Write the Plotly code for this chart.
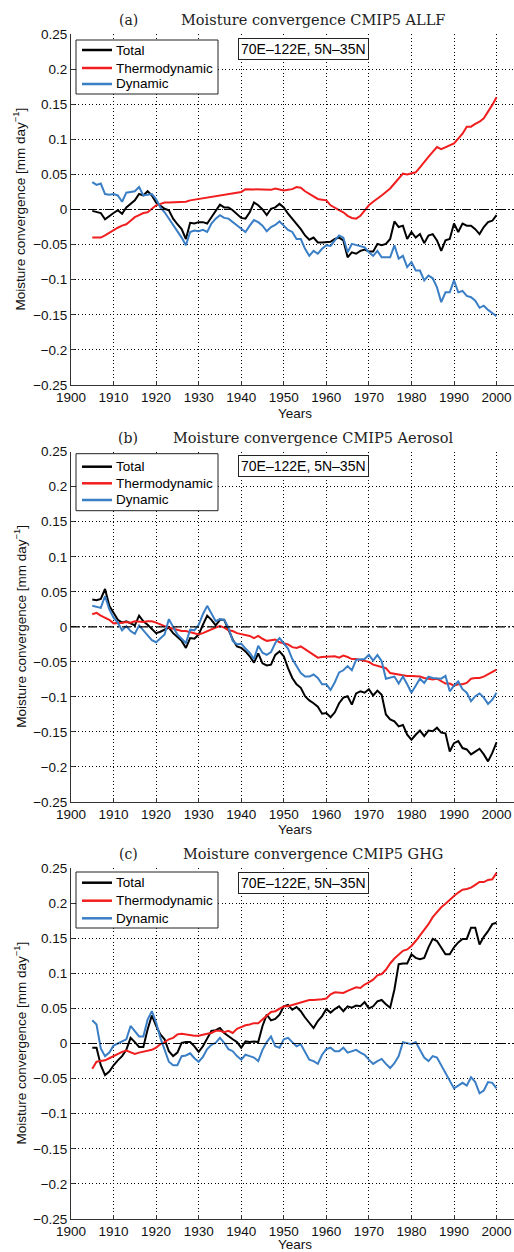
import plotly.graph_objects as go

W, H = 514, 1252

years = list(range(1905, 2001))

# Panel (a) CMIP5 ALLF
a_total = [-0.002, -0.004, -0.005, -0.014, -0.009, -0.005, -0.001, -0.006, 0.003, 0.008,
           0.013, 0.022, 0.020, 0.026, 0.020, 0.010, 0.006, 0.001, -0.001, -0.013,
           -0.021, -0.028, -0.042, -0.019, -0.020, -0.018, -0.018, -0.020, -0.011, -0.001,
           0.007, 0.003, 0.003, -0.001, -0.006, -0.012, -0.013, -0.004, 0.010, 0.006,
           0.000, -0.008, 0.001, 0.003, 0.008, 0.003, -0.006, -0.013, -0.020, -0.028,
           -0.037, -0.043, -0.040, -0.047, -0.047, -0.046, -0.046, -0.042, -0.040, -0.044,
           -0.068, -0.061, -0.063, -0.059, -0.057, -0.060, -0.060, -0.049, -0.051, -0.049,
           -0.042, -0.017, -0.025, -0.023, -0.042, -0.032, -0.040, -0.035, -0.048, -0.037,
           -0.035, -0.044, -0.059, -0.044, -0.042, -0.020, -0.032, -0.020, -0.023, -0.023,
           -0.028, -0.035, -0.025, -0.018, -0.016, -0.008]
a_thermo = [-0.040, -0.040, -0.040, -0.037, -0.033, -0.029, -0.026, -0.023, -0.021, -0.016,
            -0.011, -0.008, -0.005, -0.004, 0.001, 0.006, 0.008, 0.010, 0.010, 0.010,
            0.010, 0.011, 0.011, 0.013, 0.014, 0.015, 0.016, 0.018, 0.019, 0.020,
            0.021, 0.022, 0.023, 0.024, 0.024, 0.025, 0.029, 0.029, 0.029, 0.028,
            0.028, 0.028, 0.028, 0.030, 0.029, 0.027, 0.028, 0.029, 0.032, 0.031,
            0.026, 0.022, 0.018, 0.015, 0.014, 0.013, 0.006, 0.002, -0.001, -0.004,
            -0.009, -0.012, -0.013, -0.009, -0.001, 0.006, 0.011, 0.015, 0.020, 0.025,
            0.030, 0.037, 0.044, 0.051, 0.050, 0.051, 0.053, 0.060, 0.068, 0.075,
            0.082, 0.089, 0.086, 0.089, 0.092, 0.094, 0.101, 0.108, 0.118, 0.118,
            0.122, 0.125, 0.130, 0.139, 0.149, 0.160]
a_dynamic = [0.039, 0.035, 0.037, 0.022, 0.021, 0.022, 0.020, 0.011, 0.024, 0.025,
             0.026, 0.032, 0.020, 0.021, 0.022, 0.015, 0.003, -0.004, -0.013, -0.023,
             -0.031, -0.040, -0.051, -0.032, -0.030, -0.031, -0.029, -0.032, -0.020, -0.013,
             -0.008, -0.012, -0.013, -0.018, -0.023, -0.028, -0.032, -0.023, -0.015, -0.018,
             -0.023, -0.031, -0.025, -0.022, -0.017, -0.023, -0.029, -0.032, -0.042, -0.042,
             -0.056, -0.066, -0.059, -0.063, -0.056, -0.051, -0.052, -0.044, -0.037, -0.040,
             -0.061, -0.049, -0.051, -0.052, -0.054, -0.061, -0.066, -0.059, -0.068, -0.068,
             -0.068, -0.051, -0.070, -0.066, -0.082, -0.075, -0.087, -0.087, -0.101, -0.094,
             -0.098, -0.111, -0.132, -0.118, -0.118, -0.101, -0.118, -0.116, -0.123, -0.125,
             -0.130, -0.140, -0.137, -0.143, -0.148, -0.152]

# Panel (b) CMIP5 Aerosol
b_total = [0.039, 0.038, 0.040, 0.054, 0.030, 0.020, 0.010, 0.006, 0.008, 0.005,
           0.002, 0.016, 0.008, 0.003, -0.003, -0.009, -0.007, -0.004, -0.001, -0.009,
           -0.014, -0.020, -0.030, -0.016, -0.017, -0.011, 0.003, 0.016, 0.010, 0.002,
           0.010, 0.010, -0.004, -0.018, -0.028, -0.030, -0.035, -0.042, -0.051, -0.038,
           -0.052, -0.055, -0.054, -0.040, -0.035, -0.042, -0.059, -0.073, -0.082, -0.087,
           -0.099, -0.105, -0.109, -0.114, -0.124, -0.123, -0.129, -0.122, -0.109, -0.101,
           -0.099, -0.111, -0.095, -0.092, -0.094, -0.089, -0.098, -0.091, -0.097, -0.125,
           -0.132, -0.135, -0.142, -0.140, -0.154, -0.161, -0.154, -0.148, -0.156, -0.148,
           -0.149, -0.144, -0.151, -0.152, -0.178, -0.166, -0.163, -0.173, -0.175, -0.182,
           -0.178, -0.174, -0.182, -0.192, -0.180, -0.165]
b_thermo = [0.018, 0.020, 0.016, 0.013, 0.010, 0.005, 0.005, 0.006, 0.007, 0.006,
            0.008, 0.007, 0.007, 0.008, 0.008, 0.006, 0.003, 0.001, -0.001, -0.003,
            -0.005, -0.006, -0.006, -0.008, -0.009, -0.011, -0.009, -0.006, -0.004, -0.001,
            0.001, -0.001, -0.005, -0.006, -0.009, -0.010, -0.012, -0.013, -0.016, -0.013,
            -0.017, -0.020, -0.019, -0.018, -0.022, -0.023, -0.025, -0.029, -0.030, -0.028,
            -0.032, -0.036, -0.040, -0.044, -0.043, -0.043, -0.043, -0.042, -0.044, -0.041,
            -0.043, -0.046, -0.046, -0.047, -0.048, -0.050, -0.054, -0.056, -0.057, -0.059,
            -0.066, -0.067, -0.068, -0.070, -0.070, -0.070, -0.070, -0.071, -0.073, -0.074,
            -0.075, -0.074, -0.078, -0.081, -0.081, -0.084, -0.082, -0.082, -0.080, -0.074,
            -0.073, -0.073, -0.071, -0.068, -0.065, -0.061]
b_dynamic = [0.030, 0.029, 0.027, 0.044, 0.025, 0.013, 0.006, -0.005, 0.001, -0.006,
             -0.010, 0.002, -0.005, -0.012, -0.019, -0.022, -0.017, -0.011, 0.011, -0.001,
             -0.011, -0.017, -0.023, -0.004, -0.005, 0.003, 0.018, 0.030, 0.018, 0.008,
             0.011, 0.010, -0.001, -0.020, -0.025, -0.024, -0.031, -0.037, -0.046, -0.027,
             -0.037, -0.040, -0.036, -0.023, -0.016, -0.023, -0.031, -0.046, -0.056, -0.066,
             -0.071, -0.071, -0.068, -0.073, -0.082, -0.082, -0.090, -0.079, -0.065, -0.062,
             -0.056, -0.062, -0.047, -0.046, -0.046, -0.040, -0.048, -0.040, -0.049, -0.074,
             -0.073, -0.071, -0.081, -0.071, -0.082, -0.094, -0.084, -0.074, -0.080, -0.071,
             -0.073, -0.073, -0.074, -0.070, -0.092, -0.084, -0.078, -0.089, -0.094, -0.106,
             -0.099, -0.095, -0.101, -0.110, -0.104, -0.094]

# Panel (c) CMIP5 GHG
c_total = [-0.006, -0.006, -0.031, -0.045, -0.040, -0.031, -0.024, -0.018, -0.009, 0.008,
           0.002, -0.005, -0.005, 0.020, 0.040, 0.025, 0.013, 0.006, -0.011, -0.018,
           -0.013, 0.001, 0.002, 0.002, -0.004, -0.012, -0.004, 0.008, 0.018, 0.019,
           0.022, 0.015, 0.010, 0.006, 0.002, -0.006, 0.003, 0.002, 0.003, 0.002,
           0.025, 0.041, 0.033, 0.035, 0.041, 0.053, 0.055, 0.048, 0.052, 0.046,
           0.037, 0.030, 0.022, 0.032, 0.039, 0.049, 0.044, 0.049, 0.053, 0.046,
           0.053, 0.051, 0.054, 0.053, 0.059, 0.050, 0.053, 0.060, 0.062, 0.056,
           0.051, 0.077, 0.113, 0.114, 0.114, 0.127, 0.122, 0.120, 0.122, 0.137,
           0.149, 0.146, 0.137, 0.127, 0.127, 0.137, 0.144, 0.149, 0.149, 0.165,
           0.165, 0.141, 0.152, 0.160, 0.170, 0.172]
c_thermo = [-0.036, -0.026, -0.025, -0.024, -0.021, -0.018, -0.014, -0.012, -0.010, -0.012,
            -0.015, -0.013, -0.012, -0.010, -0.009, -0.006, -0.001, 0.002, 0.006, 0.008,
            0.013, 0.014, 0.013, 0.011, 0.011, 0.011, 0.013, 0.014, 0.015, 0.018,
            0.018, 0.016, 0.018, 0.015, 0.021, 0.024, 0.026, 0.027, 0.029, 0.029,
            0.034, 0.040, 0.045, 0.046, 0.049, 0.053, 0.053, 0.055, 0.056, 0.059,
            0.060, 0.062, 0.062, 0.062, 0.063, 0.064, 0.070, 0.073, 0.072, 0.072,
            0.075, 0.078, 0.080, 0.079, 0.084, 0.087, 0.091, 0.097, 0.099, 0.105,
            0.114, 0.121, 0.126, 0.132, 0.134, 0.139, 0.146, 0.154, 0.163, 0.170,
            0.180, 0.187, 0.194, 0.199, 0.205, 0.210, 0.215, 0.219, 0.220, 0.222,
            0.226, 0.230, 0.230, 0.233, 0.234, 0.243]
c_dynamic = [0.033, 0.027, -0.007, -0.018, -0.013, -0.003, 0.000, 0.003, 0.006, 0.025,
             0.018, 0.010, 0.010, 0.034, 0.046, 0.030, 0.008, -0.010, -0.026, -0.031,
             -0.031, -0.018, -0.017, -0.014, -0.021, -0.026, -0.019, -0.008, -0.002, 0.001,
             0.008, 0.001, -0.008, -0.011, -0.018, -0.023, -0.016, -0.018, -0.020, -0.025,
             -0.009, 0.002, 0.010, -0.004, -0.006, 0.006, 0.008, 0.002, -0.004, -0.001,
             -0.013, -0.023, -0.025, -0.029, -0.016, -0.008, -0.006, -0.011, -0.011, -0.006,
             -0.013, -0.011, -0.009, -0.013, -0.016, -0.023, -0.029, -0.025, -0.022, -0.029,
             -0.035, -0.028, -0.018, 0.002, 0.000, -0.001, 0.002, -0.009, -0.020, -0.025,
             -0.018, -0.020, -0.031, -0.043, -0.055, -0.064, -0.060, -0.056, -0.060, -0.048,
             -0.055, -0.071, -0.067, -0.055, -0.056, -0.064]

series_names = ["Total", "Thermodynamic", "Dynamic"]
series_colors = ["#000000", "#f01e1e", "#3a7ec6"]
panel_letters = ["(a)", "(b)", "(c)"]
panel_titles = ["Moisture convergence CMIP5 ALLF",
                "Moisture convergence CMIP5 Aerosol",
                "Moisture convergence CMIP5 GHG"]
panel_data = [[a_total, a_thermo, a_dynamic],
              [b_total, b_thermo, b_dynamic],
              [c_total, c_thermo, c_dynamic]]
region_label = "70E\u2013122E, 5N\u201335N"

xtick_vals = [1900, 1910, 1920, 1930, 1940, 1950, 1960, 1970, 1980, 1990, 2000]
xtick_text = [str(v) for v in xtick_vals]
ytick_vals = [0.25, 0.2, 0.15, 0.1, 0.05, 0, -0.05, -0.1, -0.15, -0.2, -0.25]
ytick_text = ["0.25", "0.2", "0.15", "0.1", "0.05", "0",
              "\u22120.05", "\u22120.1", "\u22120.15", "\u22120.2", "\u22120.25"]

# layout geometry (pixels from top)
plot_left = 71
panel_tops = [34, 451.7, 868]
panel_bottoms = [385, 802, 1219]
legend_box_top = [6, 2, 4]          # offsets below panel top
legend_box_bottom = [60, 59, 60]
legend_rows = [[16, 34, 50], [15, 31.6, 48.3], [14.7, 32.7, 50.3]]
years_label_offset = [28, 27, 25]


def fx(px):
    return px / W


def fy(px):
    return 1 - px / H


fig = go.Figure()
sans = "Liberation Sans, Arial, Helvetica, sans-serif"
serif = "DejaVu Serif"
tick_font = dict(family=sans, size=13.5, color="#111")
annotations = []
shapes = []

for i in range(3):
    n = "" if i == 0 else str(i + 1)
    for j in range(3):
        fig.add_trace(go.Scatter(
            x=years, y=panel_data[i][j], mode="lines", name=series_names[j],
            line=dict(color=series_colors[j], width=2),
            xaxis="x" + n, yaxis="y" + n, showlegend=False,
        ))
    common_grid = dict(showgrid=True, gridcolor="#000000", gridwidth=0.8,
                       griddash="1px,2.5px", zeroline=False, automargin=False,
                       showline=True, linecolor="#333333", linewidth=1,
                       ticks="inside", ticklen=4, tickcolor="#333333",
                       tickfont=tick_font)
    fig.update_layout(**{
        "xaxis" + n: dict(domain=[fx(plot_left), 1.0], range=[1900, 2004.1],
                          tickmode="array", tickvals=xtick_vals, ticktext=xtick_text,
                          anchor="y" + n, **common_grid),
        "yaxis" + n: dict(domain=[fy(panel_bottoms[i]), fy(panel_tops[i])],
                          range=[-0.25, 0.25], tickmode="array",
                          tickvals=ytick_vals, ticktext=ytick_text,
                          anchor="x" + n, **common_grid),
    })
    # zero dash-dot line
    shapes.append(dict(type="line", xref="x" + n + " domain", yref="y" + n,
                       x0=0, x1=1, y0=0, y1=0,
                       line=dict(color="#000", width=1.1, dash="9px,3px,2px,3px")))
    top = panel_tops[i]
    bot = panel_bottoms[i]
    # legend box
    shapes.append(dict(type="rect", xref="paper", yref="paper",
                       x0=fx(76), x1=fx(218),
                       y0=fy(top + legend_box_bottom[i]), y1=fy(top + legend_box_top[i]),
                       line=dict(color="#222", width=1), fillcolor="white", layer="above"))
    for j in range(3):
        ry = top + legend_rows[i][j]
        shapes.append(dict(type="line", xref="paper", yref="paper",
                           x0=fx(82), x1=fx(112), y0=fy(ry), y1=fy(ry),
                           line=dict(color=series_colors[j], width=2.5), layer="above"))
        annotations.append(dict(text=series_names[j], x=fx(114), y=fy(ry),
                                xref="paper", yref="paper", showarrow=False,
                                xanchor="left", yanchor="middle",
                                font=dict(family=sans, size=13.5, color="#000")))
    annotations += [
        dict(text=panel_letters[i], x=fx(128), y=fy(top - 14), xref="paper", yref="paper",
             showarrow=False, xanchor="center", yanchor="middle",
             font=dict(family=serif, size=14, color="#222")),
        dict(text=panel_titles[i], x=fx(313), y=fy(top - 14), xref="paper", yref="paper",
             showarrow=False, xanchor="center", yanchor="middle",
             font=dict(family=serif, size=14.5, color="#222")),
        dict(text=region_label, x=fx(303.5), y=fy(top + 14.7), xref="paper", yref="paper",
             showarrow=False, xanchor="center", yanchor="middle",
             bordercolor="#222", borderwidth=1, borderpad=2, bgcolor="white",
             font=dict(family=sans, size=14, color="#000")),
        dict(text="Years", x=fx(295), y=fy(bot + years_label_offset[i]),
             xref="paper", yref="paper",
             showarrow=False, xanchor="center", yanchor="middle",
             font=dict(family=sans, size=13.5, color="#111")),
        dict(text="Moisture convergence [mm day<sup>\u22121</sup>]", x=fx(20),
             y=fy((top + bot) / 2), xref="paper", yref="paper", textangle=-90,
             showarrow=False, xanchor="center", yanchor="middle",
             font=dict(family=sans, size=13.5, color="#111")),
    ]

fig.update_layout(
    width=W, height=H,
    margin=dict(l=0, r=0, t=0, b=0, pad=0, autoexpand=False),
    paper_bgcolor="white", plot_bgcolor="white",
    font=dict(family=sans),
    annotations=annotations, shapes=shapes, showlegend=False,
)

fig.write_html("out.html")
